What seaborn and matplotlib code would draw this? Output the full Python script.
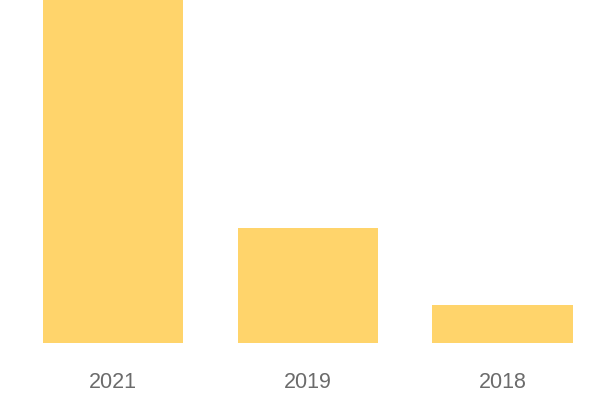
import matplotlib
matplotlib.use("Agg")
import matplotlib.pyplot as plt
import seaborn as sns
import pandas as pd

years = ["2021", "2019", "2018"]
values = [9.0, 3.0, 1.0]

df = pd.DataFrame({"year": years, "value": values})

sns.set_style("white")
plt.rcParams['font.family'] = ['Liberation Sans', 'DejaVu Sans']

fig = plt.figure(figsize=(6, 4), dpi=100)
ax = fig.add_axes([15.5/600, 57/400, 584.5/600, 343/400])
sns.barplot(data=df, x="year", y="value", color="#FFD46B", saturation=1,
            width=0.72, linewidth=0, ax=ax)
ax.set_ylim(0, 8.97)
ax.set_xlim(-0.5, 2.5)
ax.set_xlabel("")
ax.set_ylabel("")
ax.set_yticks([])
for s in ax.spines.values():
    s.set_visible(False)
ax.tick_params(axis="x", length=0, pad=21, labelsize=15.5, labelcolor="#6b6b6b")
for t in ax.get_xticklabels():
    t.set_fontproperties({"family": "Liberation Sans", "size": 15.5})
    t.set_color("#6b6b6b")
fig.savefig("out.png", dpi=100)
